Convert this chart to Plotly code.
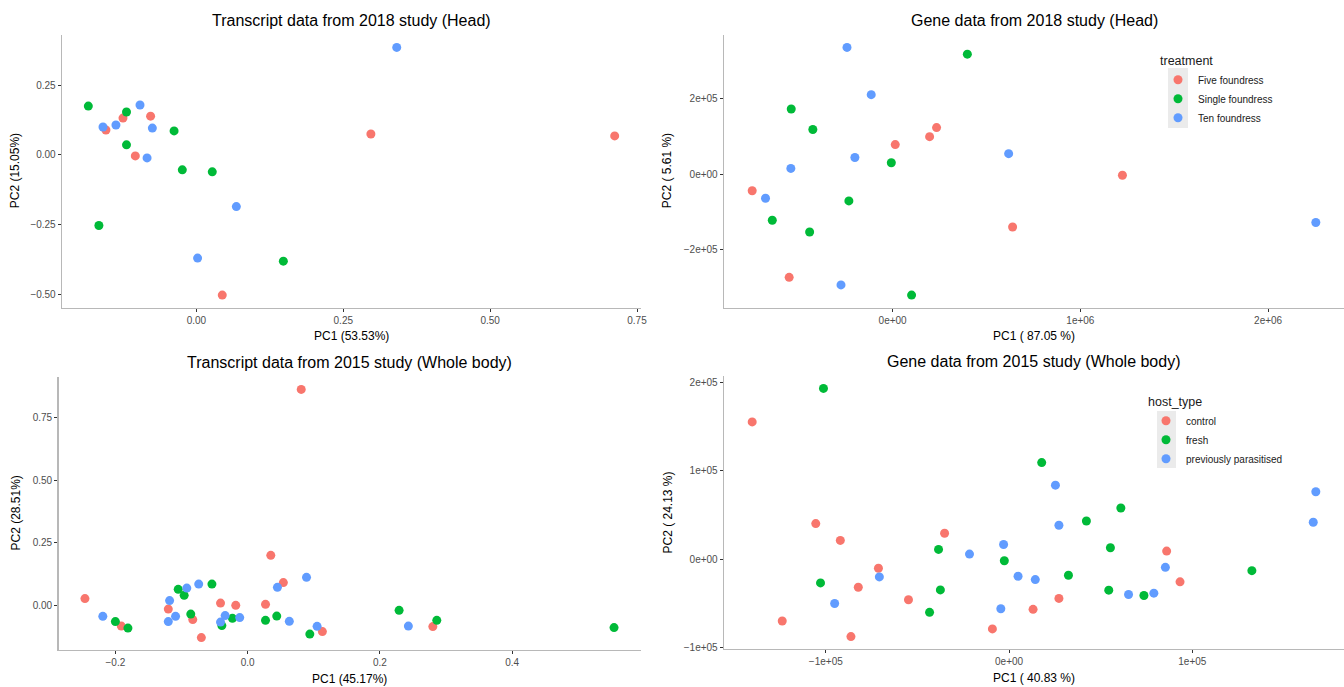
import plotly.graph_objects as go

W, H = 1344, 687

# ---------------- data ----------------
# Panel 1: Transcript data from 2018 study (Head)
t18_five_x = [0.712, 0.297, -0.154, -0.125, -0.078, -0.104, 0.044]
t18_five_y = [0.068, 0.075, 0.089, 0.132, 0.139, -0.004, -0.504]
t18_single_x = [-0.184, -0.119, -0.038, -0.119, -0.024, 0.027, -0.166, 0.148]
t18_single_y = [0.175, 0.154, 0.086, 0.036, -0.054, -0.061, -0.254, -0.382]
t18_ten_x = [0.341, -0.159, -0.137, -0.096, -0.075, -0.084, 0.068, 0.002]
t18_ten_y = [0.386, 0.100, 0.107, 0.179, 0.096, -0.011, -0.186, -0.371]

# Panel 2: Gene data from 2018 study (Head)
g18_five_x = [0.234e6, 0.197e6, 0.014e6, 1.224e6, -0.748e6, 0.639e6, -0.551e6]
g18_five_y = [1.23e5, 0.99e5, 0.78e5, -0.03e5, -0.44e5, -1.40e5, -2.73e5]
g18_single_x = [0.398e6, -0.540e6, -0.425e6, -0.007e6, -0.233e6, -0.641e6, -0.442e6, 0.101e6]
g18_single_y = [3.17e5, 1.72e5, 1.18e5, 0.30e5, -0.71e5, -1.22e5, -1.53e5, -3.20e5]
g18_ten_x = [-0.243e6, -0.114e6, -0.201e6, 0.618e6, -0.542e6, -0.677e6, 2.254e6, -0.275e6]
g18_ten_y = [3.35e5, 2.10e5, 0.44e5, 0.54e5, 0.15e5, -0.64e5, -1.28e5, -2.93e5]

# Panel 3: Transcript data from 2015 study (Whole body)
t15_control_x = [0.081, 0.035, 0.054, -0.246, -0.041, -0.018, 0.027, -0.120, -0.083, -0.191, -0.070, 0.113, 0.280]
t15_control_y = [0.864, 0.200, 0.091, 0.027, 0.009, 0.000, 0.004, -0.015, -0.057, -0.083, -0.129, -0.105, -0.085]
t15_fresh_x = [-0.054, -0.105, -0.096, -0.086, -0.039, -0.023, 0.027, 0.044, 0.094, -0.200, -0.181, 0.229, 0.286, 0.554]
t15_fresh_y = [0.085, 0.064, 0.040, -0.035, -0.081, -0.052, -0.060, -0.043, -0.115, -0.065, -0.091, -0.020, -0.060, -0.089]
t15_prev_x = [0.089, 0.045, -0.074, -0.092, -0.118, -0.219, -0.109, -0.120, -0.034, -0.041, -0.012, 0.063, 0.105, 0.243]
t15_prev_y = [0.112, 0.072, 0.085, 0.069, 0.019, -0.044, -0.044, -0.065, -0.041, -0.067, -0.049, -0.064, -0.084, -0.083]

# Panel 4: Gene data from 2015 study (Whole body)
g15_control_x = [-1.402e5, -1.055e5, -0.921e5, -0.352e5, -0.713e5, -0.823e5, -0.549e5, -1.238e5, -0.863e5, -0.091e5, 0.131e5, 0.272e5, 0.860e5, 0.933e5]
g15_control_y = [1.556e5, 0.402e5, 0.211e5, 0.293e5, -0.105e5, -0.320e5, -0.462e5, -0.703e5, -0.880e5, -0.793e5, -0.571e5, -0.447e5, 0.090e5, -0.259e5]
g15_fresh_x = [-1.013e5, 0.178e5, 0.610e5, 0.422e5, -0.385e5, 0.553e5, -0.026e5, 0.324e5, -1.029e5, -0.375e5, -0.434e5, 0.544e5, 0.736e5, 1.325e5]
g15_fresh_y = [1.936e5, 1.094e5, 0.579e5, 0.432e5, 0.109e5, 0.128e5, -0.019e5, -0.184e5, -0.271e5, -0.350e5, -0.605e5, -0.353e5, -0.414e5, -0.132e5]
g15_prev_x = [0.253e5, 0.272e5, -0.030e5, -0.216e5, -0.708e5, -0.952e5, -0.045e5, 0.049e5, 0.143e5, 0.652e5, 0.790e5, 0.853e5, 1.674e5, 1.660e5]
g15_prev_y = [0.838e5, 0.383e5, 0.165e5, 0.056e5, -0.203e5, -0.504e5, -0.564e5, -0.195e5, -0.233e5, -0.402e5, -0.387e5, -0.094e5, 0.763e5, 0.417e5]

treatment_labels = ["Five foundress", "Single foundress", "Ten foundress"]
host_labels = ["control", "fresh", "previously parasitised"]

titles = ["Transcript data from 2018 study (Head)", "Gene data from 2018 study (Head)",
          "Transcript data from 2015 study (Whole body)", "Gene data from 2015 study (Whole body)"]
xtitles = ["PC1 (53.53%)", "PC1 ( 87.05 %)", "PC1 (45.17%)", "PC1 ( 40.83 %)"]
ytitles = ["PC2 (15.05%)", "PC2 ( 5.61 %)", "PC2 (28.51%)", "PC2 ( 24.13 %)"]

p1_xticks = [0.0, 0.25, 0.5, 0.75]
p1_yticks = [-0.5, -0.25, 0.0, 0.25]
p2_xticks = [0, 1e6, 2e6]
p2_xticktext = ["0e+00", "1e+06", "2e+06"]
p2_yticks = [-2e5, 0, 2e5]
p2_yticktext = ["\u22122e+05", "0e+00", "2e+05"]
p3_xticks = [-0.2, 0.0, 0.2, 0.4]
p3_yticks = [0.0, 0.25, 0.5, 0.75]
p4_xticks = [-1e5, 0, 1e5]
p4_xticktext = ["\u22121e+05", "0e+00", "1e+05"]
p4_yticks = [-1e5, 0, 1e5, 2e5]
p4_yticktext = ["\u22121e+05", "0e+00", "1e+05", "2e+05"]

# ---------------- style ----------------
COLORS = ["#F8766D", "#00BA38", "#619CFF"]
FONT = "Liberation Sans, Arial, sans-serif"
MS = 9

# panel pixel boxes: (left, right, top, bottom)
boxes = [(62, 641, 35, 307.5), (724, 1344, 35, 307.5), (58.5, 640.5, 377, 650), (724, 1344, 376, 649)]


def px_x(v):
    return v / W


def px_y(v):
    return 1 - v / H


def exp_range(*arrs):
    vals = [v for a in arrs for v in a]
    lo, hi = min(vals), max(vals)
    span = hi - lo
    return [lo - 0.05 * span, hi + 0.05 * span]


fig = go.Figure()

panels = [
    ([(t18_five_x, t18_five_y), (t18_single_x, t18_single_y), (t18_ten_x, t18_ten_y)], treatment_labels, None),
    ([(g18_five_x, g18_five_y), (g18_single_x, g18_single_y), (g18_ten_x, g18_ten_y)], treatment_labels, "legend"),
    ([(t15_control_x, t15_control_y), (t15_fresh_x, t15_fresh_y), (t15_prev_x, t15_prev_y)], host_labels, None),
    ([(g15_control_x, g15_control_y), (g15_fresh_x, g15_fresh_y), (g15_prev_x, g15_prev_y)], host_labels, "legend2"),
]

for i, (groups, labels, leg) in enumerate(panels):
    xa = "x" if i == 0 else f"x{i+1}"
    ya = "y" if i == 0 else f"y{i+1}"
    for g, (xs, ys) in enumerate(groups):
        fig.add_trace(go.Scatter(
            x=xs, y=ys, mode="markers", name=labels[g],
            marker=dict(color=COLORS[g], size=MS, line=dict(width=0)),
            xaxis=xa, yaxis=ya,
            showlegend=leg is not None,
            legend=leg if leg else "legend",
        ))

tick_specs = [
    (dict(tickvals=p1_xticks, tickformat=".2f"), dict(tickvals=p1_yticks, tickformat=".2f")),
    (dict(tickvals=p2_xticks, ticktext=p2_xticktext), dict(tickvals=p2_yticks, ticktext=p2_yticktext)),
    (dict(tickvals=p3_xticks, tickformat=".1f"), dict(tickvals=p3_yticks, tickformat=".2f")),
    (dict(tickvals=p4_xticks, ticktext=p4_xticktext), dict(tickvals=p4_yticks, ticktext=p4_yticktext)),
]

axis_common = dict(
    showline=True, linecolor="#b8b8b8", linewidth=1.3, showgrid=False, zeroline=False,
    ticks="outside", ticklen=3, tickwidth=1, tickcolor="#333333",
    tickfont=dict(family=FONT, size=10, color="#4d4d4d"), automargin=False,
)

layout_axes = {}
annotations = []
for i, (groups, labels, leg) in enumerate(panels):
    l, r, t, b = boxes[i]
    xs_all = [g[0] for g in groups]
    ys_all = [g[1] for g in groups]
    xk = "xaxis" if i == 0 else f"xaxis{i+1}"
    yk = "yaxis" if i == 0 else f"yaxis{i+1}"
    xa = "x" if i == 0 else f"x{i+1}"
    ya = "y" if i == 0 else f"y{i+1}"
    layout_axes[xk] = dict(axis_common, domain=[px_x(l), px_x(r)], anchor=ya,
                           range=exp_range(*xs_all), **tick_specs[i][0])
    layout_axes[yk] = dict(axis_common, domain=[px_y(b), px_y(t)], anchor=xa,
                           range=exp_range(*ys_all), **tick_specs[i][1])
    cx = (l + r) / 2
    annotations.append(dict(text=titles[i], x=px_x(cx), y=px_y(t - 15), xref="paper", yref="paper",
                            showarrow=False, xanchor="center", yanchor="middle",
                            font=dict(family=FONT, size=16, color="black")))
    annotations.append(dict(text=xtitles[i], x=px_x(cx), y=px_y(b + 29), xref="paper", yref="paper",
                            showarrow=False, xanchor="center", yanchor="middle",
                            font=dict(family=FONT, size=12, color="black")))
    ax_x = 15 if i % 2 == 0 else 667
    annotations.append(dict(text=ytitles[i], x=px_x(ax_x), y=px_y((t + b) / 2), xref="paper", yref="paper",
                            showarrow=False, xanchor="center", yanchor="middle", textangle=-90,
                            font=dict(family=FONT, size=12, color="black")))

shapes = [
    dict(type="rect", xref="paper", yref="paper", x0=px_x(1168), x1=px_x(1188), y0=px_y(128), y1=px_y(68),
         fillcolor="#ebebeb", line=dict(width=0), layer="below"),
    dict(type="rect", xref="paper", yref="paper", x0=px_x(1157), x1=px_x(1176), y0=px_y(468), y1=px_y(411),
         fillcolor="#ebebeb", line=dict(width=0), layer="below"),
]

legend_common = dict(
    bgcolor="rgba(0,0,0,0)", borderwidth=0,
    font=dict(family=FONT, size=10, color="#1a1a1a"),
    xanchor="left", yanchor="top", itemclick=False, itemdoubleclick=False,
)

fig.update_layout(
    width=W, height=H, margin=dict(l=0, r=0, t=0, b=0),
    paper_bgcolor="white", plot_bgcolor="white",
    annotations=annotations, shapes=shapes,
    legend=dict(legend_common, x=px_x(1158), y=px_y(49),
                title=dict(text="treatment", font=dict(family=FONT, size=12.5, color="#1a1a1a"))),
    legend2=dict(legend_common, x=px_x(1146), y=px_y(390),
                 title=dict(text="host_type", font=dict(family=FONT, size=12.5, color="#1a1a1a"))),
    **layout_axes,
)

fig.write_html(
    "out.html",
    config={"displayModeBar": False, "staticPlot": True},
    post_script="document.body.style.margin='0';document.body.style.overflow='hidden';",
)
